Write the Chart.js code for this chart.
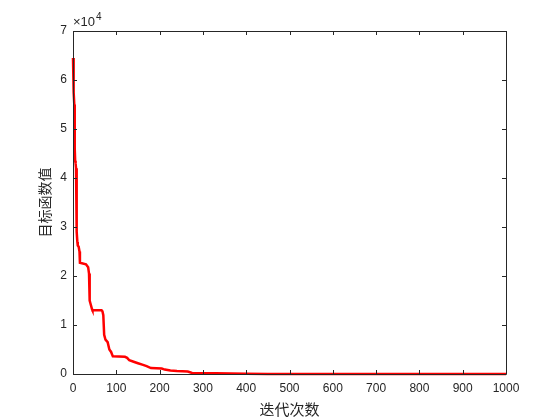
<!DOCTYPE html>
<html>
<head>
<meta charset="utf-8">
<script src="https://cdn.jsdelivr.net/npm/chart.js@4.4.1/dist/chart.umd.min.js"></script>
<style>
html,body{margin:0;padding:0;background:#fff;}
#wrap{width:560px;height:420px;position:relative;}
</style>
</head>
<body>
<div id="wrap"><canvas id="c" width="560" height="420"></canvas></div>
<script>
// Iteration break points and objective values
const iterations = [0,1,2,3,4,5,6,7,8,9,10,11,13,15,16,30,35,37,38,39,40,44,45,66,68,70,72,75,80,84,88,92,120,125,130,140,150,160,170,180,205,212,225,240,265,275,330,400,450,1000];
const objectiveValues = [64500,59000,57500,55000,46000,43500,43000,42000,35000,29000,27000,26200,26000,25000,22700,22400,21800,20500,16000,15000,14500,13200,13000,13000,12800,12000,8000,7000,6500,5000,4500,3600,3500,3300,2800,2500,2200,1900,1600,1200,1100,900,700,600,500,200,150,50,0,0];
const xTicks = [0,100,200,300,400,500,600,700,800,900,1000];
const yTicks = [0,10000,20000,30000,40000,50000,60000,70000];
const yExponentLabel = '\u00d710';
const yExponent = '4';
const xTitle = '迭代次数';
const yTitle = '目标函数值';

const axisColor = '#262626';
const tickFont = {family: '"Liberation Sans", Arial, sans-serif', size: 12};

const points = iterations.map((it, i) => ({x: it, y: objectiveValues[i]}));

const boxPlugin = {
  id: 'matlabBox',
  afterDatasetsDraw(chart) {
    const ctx = chart.ctx;
    const xs = chart.scales.x, ys = chart.scales.y;
    const l = xs.left, r = xs.right, t = ys.top, b = ys.bottom;
    ctx.save();
    ctx.strokeStyle = axisColor;
    ctx.lineWidth = 1;
    ctx.beginPath();
    ctx.rect(Math.round(l) + 0.5, Math.round(t) + 0.5, Math.round(r - l), Math.round(b - t));
    ctx.stroke();
    const tl = 4;
    ctx.beginPath();
    xTicks.forEach(v => {
      const px = Math.round(xs.getPixelForValue(v)) + 0.5;
      ctx.moveTo(px, b); ctx.lineTo(px, b - tl);
      ctx.moveTo(px, t); ctx.lineTo(px, t + tl);
    });
    yTicks.forEach(v => {
      const py = Math.round(ys.getPixelForValue(v)) + 0.5;
      ctx.moveTo(l, py); ctx.lineTo(l + tl, py);
      ctx.moveTo(r, py); ctx.lineTo(r - tl, py);
    });
    ctx.stroke();
    // exponent label
    ctx.fillStyle = axisColor;
    ctx.textBaseline = 'alphabetic';
    ctx.textAlign = 'left';
    ctx.font = '13px "Liberation Sans", Arial, sans-serif';
    ctx.fillText(yExponentLabel, l, t - 5);
    const w = ctx.measureText(yExponentLabel).width;
    ctx.font = '10px "Liberation Sans", Arial, sans-serif';
    ctx.fillText(yExponent, l + w + 1, t - 11);
    ctx.restore();
  }
};

new Chart(document.getElementById('c'), {
  type: 'line',
  data: {
    datasets: [{
      data: points,
      borderColor: '#ff0000',
      backgroundColor: '#ff0000',
      borderWidth: 2.5,
      pointRadius: 0,
      tension: 0,
      fill: false,
      clip: false
    }]
  },
  options: {
    responsive: false,
    animation: false,
    events: [],
    layout: {padding: {top: 31, right: 54, left: 0, bottom: 0}},
    plugins: {legend: {display: false}, tooltip: {enabled: false}},
    scales: {
      x: {
        type: 'linear',
        min: 0, max: 1000,
        grid: {display: false, drawTicks: false},
        border: {display: false},
        afterBuildTicks(s) { s.ticks = xTicks.map(v => ({value: v})); },
        afterFit(s) { s.height = 46; },
        ticks: {color: axisColor, font: tickFont, padding: 7, maxRotation: 0, autoSkip: false,
                callback: v => String(v)},
        title: {display: true, text: xTitle, color: axisColor,
                font: {family: '"Noto Sans CJK SC", sans-serif', size: 15},
                padding: {top: 0, bottom: 2}}
      },
      y: {
        type: 'linear',
        min: 0, max: 70000,
        grid: {display: false, drawTicks: false},
        border: {display: false},
        afterBuildTicks(s) { s.ticks = yTicks.map(v => ({value: v})); },
        afterFit(s) { s.width = 73; },
        ticks: {color: axisColor, font: tickFont, padding: 6, autoSkip: false,
                callback: v => String(v / 10000)},
        title: {display: true, text: yTitle, color: axisColor,
                font: {family: '"Noto Sans CJK SC", sans-serif', size: 14},
                padding: {top: 36, bottom: 0}}
      }
    }
  },
  plugins: [boxPlugin]
});
</script>
</body>
</html>
